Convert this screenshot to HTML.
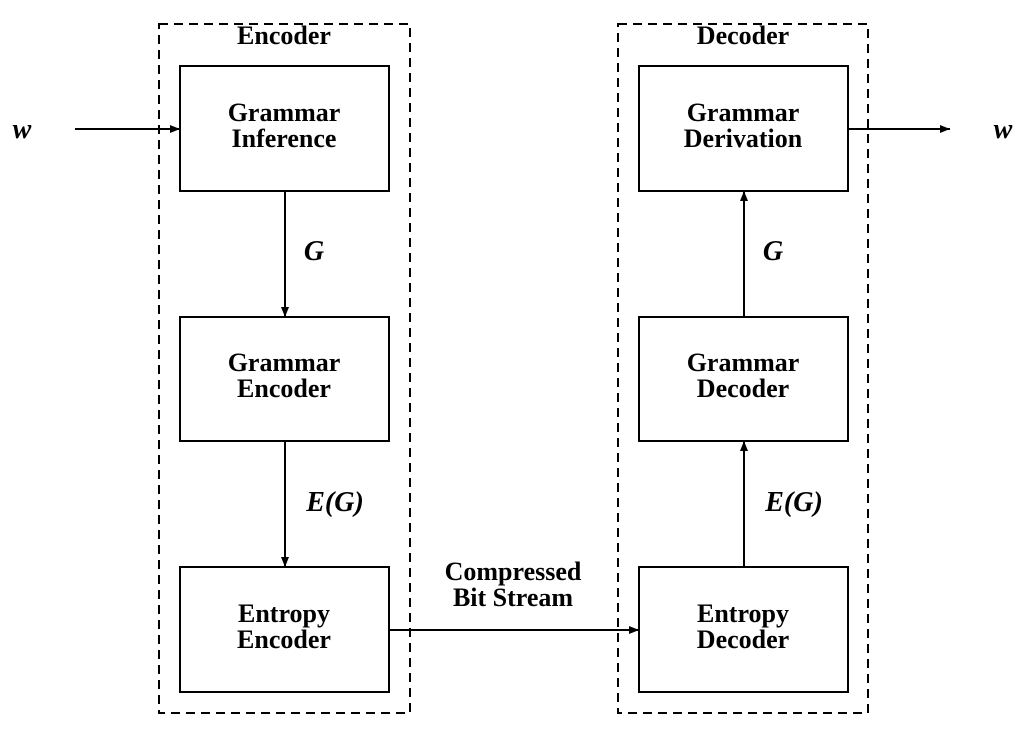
<!DOCTYPE html>
<html><head><style>html,body{margin:0;padding:0;background:#fff}</style></head>
<body>
<svg width="1024" height="728" xmlns="http://www.w3.org/2000/svg" font-family="Liberation Serif, serif" font-weight="bold">
<defs><marker id="a" markerWidth="10" markerHeight="8" refX="10" refY="4" orient="auto" markerUnits="userSpaceOnUse"><path d="M0,0 L16,4 L0,8 z" fill="#000" transform="scale(0.625,1)"/></marker></defs>
<g fill="none" stroke="#000" stroke-width="2">
<rect x="159" y="24" width="251" height="689" stroke-dasharray="9,6"/>
<rect x="618" y="24" width="250" height="689" stroke-dasharray="9,6"/>
<rect x="180" y="66" width="209" height="125"/>
<rect x="180" y="317" width="209" height="124"/>
<rect x="180" y="567" width="209" height="125"/>
<rect x="639" y="66" width="209" height="125"/>
<rect x="639" y="317" width="209" height="124"/>
<rect x="639" y="567" width="209" height="125"/>
<line x1="75" y1="129" x2="180" y2="129" marker-end="url(#a)"/>
<line x1="848" y1="129" x2="950" y2="129" marker-end="url(#a)"/>
<line x1="285" y1="191" x2="285" y2="317" marker-end="url(#a)"/>
<line x1="285" y1="441" x2="285" y2="567" marker-end="url(#a)"/>
<line x1="744" y1="317" x2="744" y2="191" marker-end="url(#a)"/>
<line x1="744" y1="567" x2="744" y2="441" marker-end="url(#a)"/>
<line x1="389" y1="630" x2="639" y2="630" marker-end="url(#a)"/>
</g>
<g font-size="26" text-anchor="middle">
<text x="284" y="44">Encoder</text>
<text x="743" y="44">Decoder</text>
<text x="284" y="121">Grammar</text><text x="284" y="147">Inference</text>
<text x="284" y="371">Grammar</text><text x="284" y="397">Encoder</text>
<text x="284" y="622">Entropy</text><text x="284" y="648">Encoder</text>
<text x="743" y="121">Grammar</text><text x="743" y="147">Derivation</text>
<text x="743" y="371">Grammar</text><text x="743" y="397">Decoder</text>
<text x="743" y="622">Entropy</text><text x="743" y="648">Decoder</text>
<text x="513" y="580">Compressed</text><text x="513" y="606">Bit Stream</text>
</g>
<g font-size="28" font-style="italic" text-anchor="middle">
<text x="22" y="138">w</text>
<text x="1003" y="138">w</text>
<text x="314" y="260">G</text>
<text x="773" y="260">G</text>
<text x="335" y="511">E(G)</text>
<text x="794" y="511">E(G)</text>
</g>
</svg>
</body></html>
